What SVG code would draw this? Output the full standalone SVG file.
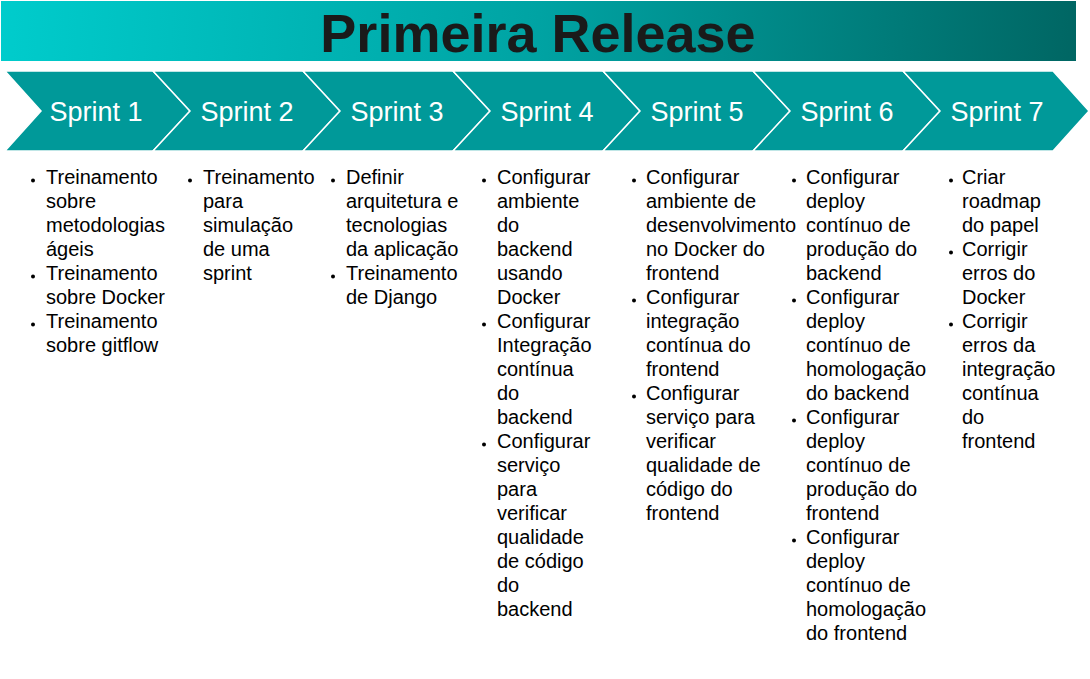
<svg xmlns="http://www.w3.org/2000/svg" width="1090" height="679" viewBox="0 0 1090 679">
<defs>
<linearGradient id="titleGrad" x1="1" y1="0" x2="1076" y2="61" gradientUnits="userSpaceOnUse">
<stop offset="0" stop-color="#00CCCC"/>
<stop offset="0.5" stop-color="#00A3A3"/>
<stop offset="1" stop-color="#006663"/>
</linearGradient>
<style>
.chev{fill:#009999;stroke:#ffffff;stroke-width:1.5;stroke-linejoin:miter}
.lbl{font-family:"Liberation Sans",Arial,sans-serif;font-size:27px;fill:#ffffff;text-anchor:middle}
.item{font-family:"Liberation Sans",Arial,sans-serif;font-size:20px;fill:#000000}
.dot{fill:#000000}
.title{font-family:"Liberation Sans",Arial,sans-serif;font-size:54px;font-weight:bold;fill:#1a1a1a;text-anchor:middle}
</style>
</defs>
<rect width="1090" height="679" fill="#ffffff"/>
<g id="title">
<rect x="1" y="1" width="1075" height="60" fill="url(#titleGrad)"/>
<text class="title" x="538" y="52">Primeira Release</text>
</g>
<g id="connectors"></g>
<g id="sprint1">
<polygon class="chev" points="5,71 153,71 190,111 153,151 5,151 41,111"/>
<text class="lbl" x="96" y="121">Sprint 1</text>
</g>
<g id="sprint2">
<polygon class="chev" points="153,71 303,71 340,111 303,151 153,151 190,111"/>
<text class="lbl" x="247" y="121">Sprint 2</text>
</g>
<g id="sprint3">
<polygon class="chev" points="303,71 453,71 490,111 453,151 303,151 340,111"/>
<text class="lbl" x="397" y="121">Sprint 3</text>
</g>
<g id="sprint4">
<polygon class="chev" points="453,71 603,71 640,111 603,151 453,151 490,111"/>
<text class="lbl" x="547" y="121">Sprint 4</text>
</g>
<g id="sprint5">
<polygon class="chev" points="603,71 753,71 790,111 753,151 603,151 640,111"/>
<text class="lbl" x="697" y="121">Sprint 5</text>
</g>
<g id="sprint6">
<polygon class="chev" points="753,71 903,71 940,111 903,151 753,151 790,111"/>
<text class="lbl" x="847" y="121">Sprint 6</text>
</g>
<g id="sprint7">
<polygon class="chev" points="903,71 1053,71 1089,111 1053,151 903,151 940,111"/>
<text class="lbl" x="997" y="121">Sprint 7</text>
</g>
<g id="tasks1">
<circle class="dot" cx="33" cy="180.5" r="2"/>
<circle class="dot" cx="33" cy="276.5" r="2"/>
<circle class="dot" cx="33" cy="324.5" r="2"/>
<text class="item"><tspan x="46" y="184">Treinamento</tspan><tspan x="46" y="208">sobre</tspan><tspan x="46" y="232">metodologias</tspan><tspan x="46" y="256">ágeis</tspan><tspan x="46" y="280">Treinamento</tspan><tspan x="46" y="304">sobre Docker</tspan><tspan x="46" y="328">Treinamento</tspan><tspan x="46" y="352">sobre gitflow</tspan></text>
</g>
<g id="tasks2">
<circle class="dot" cx="190" cy="180.5" r="2"/>
<text class="item"><tspan x="203" y="184">Treinamento</tspan><tspan x="203" y="208">para</tspan><tspan x="203" y="232">simulação</tspan><tspan x="203" y="256">de uma</tspan><tspan x="203" y="280">sprint</tspan></text>
</g>
<g id="tasks3">
<circle class="dot" cx="333" cy="180.5" r="2"/>
<circle class="dot" cx="333" cy="276.5" r="2"/>
<text class="item"><tspan x="346" y="184">Definir</tspan><tspan x="346" y="208">arquitetura e</tspan><tspan x="346" y="232">tecnologias</tspan><tspan x="346" y="256">da aplicação</tspan><tspan x="346" y="280">Treinamento</tspan><tspan x="346" y="304">de Django</tspan></text>
</g>
<g id="tasks4">
<circle class="dot" cx="484" cy="180.5" r="2"/>
<circle class="dot" cx="484" cy="324.5" r="2"/>
<circle class="dot" cx="484" cy="444.5" r="2"/>
<text class="item"><tspan x="497" y="184">Configurar</tspan><tspan x="497" y="208">ambiente</tspan><tspan x="497" y="232">do</tspan><tspan x="497" y="256">backend</tspan><tspan x="497" y="280">usando</tspan><tspan x="497" y="304">Docker</tspan><tspan x="497" y="328">Configurar</tspan><tspan x="497" y="352">Integração</tspan><tspan x="497" y="376">contínua</tspan><tspan x="497" y="400">do</tspan><tspan x="497" y="424">backend</tspan><tspan x="497" y="448">Configurar</tspan><tspan x="497" y="472">serviço</tspan><tspan x="497" y="496">para</tspan><tspan x="497" y="520">verificar</tspan><tspan x="497" y="544">qualidade</tspan><tspan x="497" y="568">de código</tspan><tspan x="497" y="592">do</tspan><tspan x="497" y="616">backend</tspan></text>
</g>
<g id="tasks5">
<circle class="dot" cx="634" cy="180.5" r="2"/>
<circle class="dot" cx="634" cy="300.5" r="2"/>
<circle class="dot" cx="634" cy="396.5" r="2"/>
<text class="item"><tspan x="646" y="184">Configurar</tspan><tspan x="646" y="208">ambiente de</tspan><tspan x="646" y="232">desenvolvimento</tspan><tspan x="646" y="256">no Docker do</tspan><tspan x="646" y="280">frontend</tspan><tspan x="646" y="304">Configurar</tspan><tspan x="646" y="328">integração</tspan><tspan x="646" y="352">contínua do</tspan><tspan x="646" y="376">frontend</tspan><tspan x="646" y="400">Configurar</tspan><tspan x="646" y="424">serviço para</tspan><tspan x="646" y="448">verificar</tspan><tspan x="646" y="472">qualidade de</tspan><tspan x="646" y="496">código do</tspan><tspan x="646" y="520">frontend</tspan></text>
</g>
<g id="tasks6">
<circle class="dot" cx="794" cy="180.5" r="2"/>
<circle class="dot" cx="794" cy="300.5" r="2"/>
<circle class="dot" cx="794" cy="420.5" r="2"/>
<circle class="dot" cx="794" cy="540.5" r="2"/>
<text class="item"><tspan x="806" y="184">Configurar</tspan><tspan x="806" y="208">deploy</tspan><tspan x="806" y="232">contínuo de</tspan><tspan x="806" y="256">produção do</tspan><tspan x="806" y="280">backend</tspan><tspan x="806" y="304">Configurar</tspan><tspan x="806" y="328">deploy</tspan><tspan x="806" y="352">contínuo de</tspan><tspan x="806" y="376">homologação</tspan><tspan x="806" y="400">do backend</tspan><tspan x="806" y="424">Configurar</tspan><tspan x="806" y="448">deploy</tspan><tspan x="806" y="472">contínuo de</tspan><tspan x="806" y="496">produção do</tspan><tspan x="806" y="520">frontend</tspan><tspan x="806" y="544">Configurar</tspan><tspan x="806" y="568">deploy</tspan><tspan x="806" y="592">contínuo de</tspan><tspan x="806" y="616">homologação</tspan><tspan x="806" y="640">do frontend</tspan></text>
</g>
<g id="tasks7">
<circle class="dot" cx="951" cy="180.5" r="2"/>
<circle class="dot" cx="951" cy="252.5" r="2"/>
<circle class="dot" cx="951" cy="324.5" r="2"/>
<text class="item"><tspan x="962" y="184">Criar</tspan><tspan x="962" y="208">roadmap</tspan><tspan x="962" y="232">do papel</tspan><tspan x="962" y="256">Corrigir</tspan><tspan x="962" y="280">erros do</tspan><tspan x="962" y="304">Docker</tspan><tspan x="962" y="328">Corrigir</tspan><tspan x="962" y="352">erros da</tspan><tspan x="962" y="376">integração</tspan><tspan x="962" y="400">contínua</tspan><tspan x="962" y="424">do</tspan><tspan x="962" y="448">frontend</tspan></text>
</g>
</svg>
